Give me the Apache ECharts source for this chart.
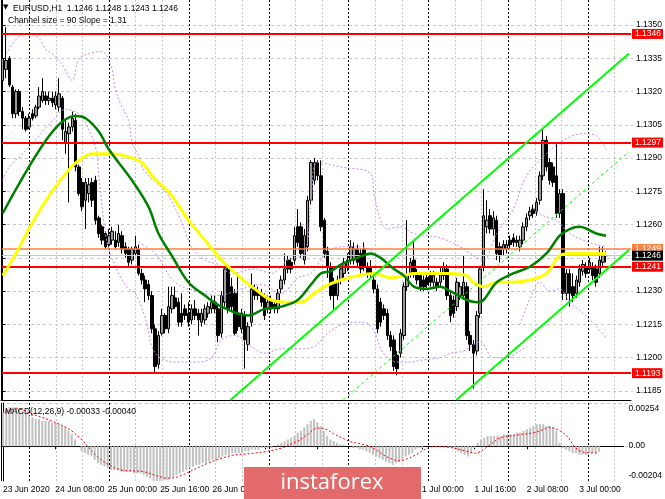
<!DOCTYPE html>
<html><head><meta charset="utf-8">
<script src="https://cdn.jsdelivr.net/npm/echarts@6/dist/echarts.min.js"></script>
<style>html,body{margin:0;padding:0;background:#fff}#c{width:665px;height:499px}</style>
</head><body><div id="c"></div>
<script>
// ---------- DATA ----------
// H1 candles, 23 Jun 2020 16:00 ... 3 Jul 2020 06:00 : [open, close, low, high]
const candles = [
[1.1325,1.1335,1.1320,1.1338],[1.1330,1.1334,1.1326,1.1349],[1.1335,1.1323,1.1322,1.1336],[1.1322,1.1310,1.1308,1.1323],
[1.1310,1.1320,1.1308,1.1321],[1.1320,1.1311,1.1309,1.1321],[1.1311,1.1308,1.1303,1.1313],[1.1308,1.1303,1.1302,1.1309],
[1.1304,1.1308,1.1303,1.1310],[1.1310,1.1308,1.1307,1.1312],[1.1309,1.1313,1.1308,1.1314],[1.1313,1.1318,1.1312,1.1322],
[1.1316,1.1320,1.1315,1.1326],[1.1318,1.1316,1.1314,1.1320],[1.1316,1.1317,1.1314,1.1320],[1.1317,1.1315,1.1313,1.1320],
[1.1314,1.1318,1.1312,1.1320],[1.1313,1.1319,1.1311,1.1326],[1.1317,1.1303,1.1298,1.1318],[1.1297,1.1302,1.1292,1.1308],
[1.1301,1.1304,1.1270,1.1306],[1.1304,1.1308,1.1302,1.1311],[1.1307,1.1286,1.1284,1.1310],[1.1286,1.1274,1.1273,1.1287],
[1.1279,1.1268,1.1266,1.1281],[1.1271,1.1279,1.1258,1.1281],[1.1274,1.1278,1.1270,1.1281],[1.1279,1.1271,1.1268,1.1281],
[1.1280,1.1262,1.1260,1.1282],[1.1263,1.1256,1.1254,1.1264],[1.1259,1.1253,1.1251,1.1260],[1.1256,1.1250,1.1249,1.1257],
[1.1251,1.1255,1.1249,1.1258],[1.1253,1.1257,1.1251,1.1259],[1.1253,1.1250,1.1249,1.1257],[1.1252,1.1256,1.1250,1.1260],
[1.1255,1.1249,1.1247,1.1257],[1.1250,1.1247,1.1245,1.1252],[1.1249,1.1243,1.1241,1.1250],[1.1244,1.1249,1.1242,1.1250],
[1.1247,1.1250,1.1246,1.1255],[1.1249,1.1238,1.1237,1.1251],[1.1238,1.1235,1.1233,1.1240],[1.1235,1.1231,1.1225,1.1237],
[1.1233,1.1228,1.1226,1.1235],[1.1228,1.1213,1.1211,1.1230],[1.1213,1.1196,1.1193,1.1215],[1.1197,1.1210,1.1195,1.1212],
[1.1211,1.1219,1.1210,1.1222],[1.1219,1.1213,1.1211,1.1220],[1.1213,1.1223,1.1211,1.1232],[1.1222,1.1228,1.1220,1.1232],
[1.1227,1.1223,1.1222,1.1232],[1.1225,1.1216,1.1214,1.1227],[1.1220,1.1216,1.1214,1.1229],[1.1222,1.1219,1.1217,1.1224],
[1.1220,1.1216,1.1214,1.1225],[1.1217,1.1222,1.1215,1.1224],[1.1222,1.1219,1.1217,1.1226],[1.1220,1.1217,1.1210,1.1222],
[1.1216,1.1220,1.1214,1.1222],[1.1217,1.1222,1.1215,1.1224],[1.1220,1.1223,1.1218,1.1225],[1.1222,1.1225,1.1220,1.1228],
[1.1225,1.1222,1.1220,1.1228],[1.1222,1.1210,1.1207,1.1224],[1.1211,1.1228,1.1209,1.1230],[1.1225,1.1240,1.1223,1.1241],
[1.1240,1.1222,1.1220,1.1241],[1.1232,1.1223,1.1221,1.1236],[1.1229,1.1211,1.1210,1.1231],[1.1220,1.1214,1.1212,1.1237],
[1.1213,1.1220,1.1211,1.1222],[1.1219,1.1208,1.1195,1.1221],[1.1206,1.1214,1.1203,1.1216],[1.1216,1.1231,1.1214,1.1238],
[1.1231,1.1228,1.1226,1.1233],[1.1230,1.1228,1.1226,1.1232],[1.1229,1.1225,1.1223,1.1231],[1.1228,1.1219,1.1217,1.1229],
[1.1222,1.1225,1.1220,1.1228],[1.1226,1.1222,1.1220,1.1228],[1.1224,1.1222,1.1220,1.1226],[1.1222,1.1229,1.1220,1.1231],
[1.1231,1.1235,1.1229,1.1237],[1.1235,1.1240,1.1233,1.1247],[1.1244,1.1240,1.1238,1.1246],[1.1243,1.1240,1.1238,1.1245],
[1.1244,1.1255,1.1242,1.1259],[1.1259,1.1252,1.1250,1.1267],[1.1259,1.1247,1.1245,1.1261],[1.1244,1.1255,1.1242,1.1258],
[1.1250,1.1271,1.1248,1.1273],[1.1271,1.1288,1.1269,1.1289],[1.1280,1.1288,1.1278,1.1290],[1.1288,1.1282,1.1280,1.1289],
[1.1282,1.1259,1.1257,1.1289],[1.1262,1.1247,1.1245,1.1263],[1.1248,1.1241,1.1236,1.1250],[1.1241,1.1228,1.1226,1.1243],
[1.1234,1.1228,1.1222,1.1236],[1.1228,1.1235,1.1226,1.1237],[1.1235,1.1240,1.1233,1.1242],[1.1238,1.1243,1.1236,1.1245],
[1.1241,1.1244,1.1239,1.1247],[1.1244,1.1250,1.1242,1.1253],[1.1244,1.1249,1.1242,1.1252],[1.1249,1.1243,1.1241,1.1251],
[1.1247,1.1240,1.1238,1.1249],[1.1249,1.1241,1.1239,1.1252],[1.1241,1.1238,1.1236,1.1243],[1.1241,1.1238,1.1236,1.1244],
[1.1235,1.1231,1.1229,1.1237],[1.1231,1.1213,1.1211,1.1233],[1.1225,1.1216,1.1214,1.1227],[1.1222,1.1219,1.1217,1.1224],
[1.1220,1.1210,1.1208,1.1222],[1.1210,1.1205,1.1203,1.1212],[1.1208,1.1196,1.1194,1.1210],[1.1201,1.1195,1.1192,1.1203],
[1.1202,1.1211,1.1200,1.1213],[1.1210,1.1232,1.1208,1.1234],[1.1232,1.1237,1.1230,1.1262],[1.1238,1.1243,1.1236,1.1245],
[1.1244,1.1238,1.1236,1.1253],[1.1238,1.1235,1.1233,1.1240],[1.1237,1.1232,1.1230,1.1238],[1.1235,1.1232,1.1230,1.1237],
[1.1236,1.1233,1.1231,1.1238],[1.1237,1.1234,1.1232,1.1239],[1.1234,1.1237,1.1232,1.1239],[1.1234,1.1232,1.1230,1.1236],
[1.1234,1.1238,1.1232,1.1241],[1.1237,1.1241,1.1235,1.1243],[1.1240,1.1228,1.1226,1.1242],[1.1228,1.1219,1.1216,1.1230],
[1.1226,1.1220,1.1218,1.1228],[1.1223,1.1234,1.1221,1.1236],[1.1228,1.1232,1.1226,1.1234],[1.1228,1.1234,1.1226,1.1246],
[1.1232,1.1210,1.1208,1.1234],[1.1210,1.1206,1.1203,1.1212],[1.1206,1.1202,1.1186,1.1208],[1.1203,1.1219,1.1201,1.1221],
[1.1220,1.1240,1.1218,1.1241],[1.1241,1.1264,1.1239,1.1276],[1.1259,1.1262,1.1256,1.1271],[1.1264,1.1258,1.1256,1.1267],
[1.1258,1.1263,1.1255,1.1266],[1.1262,1.1247,1.1244,1.1264],[1.1250,1.1246,1.1243,1.1252],[1.1249,1.1251,1.1246,1.1253],
[1.1249,1.1251,1.1247,1.1253],[1.1253,1.1251,1.1249,1.1255],[1.1254,1.1252,1.1250,1.1256],[1.1253,1.1252,1.1250,1.1255],
[1.1250,1.1253,1.1248,1.1255],[1.1253,1.1259,1.1251,1.1261],[1.1259,1.1263,1.1257,1.1265],[1.1264,1.1266,1.1262,1.1268],
[1.1267,1.1265,1.1263,1.1269],[1.1266,1.1270,1.1264,1.1272],[1.1271,1.1282,1.1269,1.1284],[1.1282,1.1298,1.1280,1.1303],
[1.1298,1.1286,1.1284,1.1300],[1.1288,1.1280,1.1278,1.1290],[1.1286,1.1279,1.1277,1.1288],[1.1282,1.1265,1.1263,1.1297],
[1.1265,1.1274,1.1263,1.1276],[1.1274,1.1229,1.1226,1.1276],[1.1229,1.1238,1.1226,1.1240],[1.1238,1.1229,1.1223,1.1240],
[1.1232,1.1228,1.1225,1.1238],[1.1229,1.1235,1.1227,1.1237],[1.1234,1.1240,1.1232,1.1242],[1.1239,1.1242,1.1237,1.1244],
[1.1241,1.1238,1.1236,1.1243],[1.1240,1.1243,1.1238,1.1245],[1.1241,1.1237,1.1235,1.1243],[1.1240,1.1234,1.1232,1.1242],
[1.1238,1.1244,1.1236,1.1250],[1.1243,1.1246,1.1241,1.1250],[1.1246,1.1246,1.1243,1.1248]
];
const slotCount = 190;            // 183 bars + empty space on the right
const timeLabels = ['23 Jun 2020','24 Jun 08:00','25 Jun 00:00','25 Jun 16:00','26 Jun 08:00','29 Jun 00:00',
                    '29 Jun 16:00','30 Jun 08:00','1 Jul 00:00','1 Jul 16:00','2 Jul 08:00','3 Jul 00:00'];
const barsPerLabel = 16;
const gridStep = 8;               // one grid line every 8 bars
const firstDayStart = 8;          // bar index of 24 Jun 00:00
const barsPerDay = 24;
const priceTicks = [1.1350,1.1335,1.1320,1.1305,1.1290,1.1275,1.1260,1.1245,1.1230,1.1215,1.1200,1.1185];
const priceMin = 1.11809, priceMax = 1.13613;
const redLevels = [1.1346, 1.1297, 1.1241, 1.1193];
const orangeLevel = 1.1249;
const lastPrice = 1.1246;
// moving averages [bar, price]
const greenMA = [[0,1.1265],[14,1.1300],[22,1.1309],[25,1.1308],[29,1.1302],[32,1.1294],[39,1.1280],[44,1.1268],[47,1.1256],
 [51,1.1246],[56,1.1234],[61,1.1228],[66,1.1223],[74,1.1219],[79,1.1222],[84,1.1223],[89,1.1226],[93,1.1233],[96,1.1238],
 [99,1.1239],[102,1.1242],[107,1.1245],[111,1.1247],[114,1.1245],[118,1.1240],[121,1.1237],[124,1.1232],[128,1.1231],
 [132,1.1232],[135,1.1230],[140,1.1226],[143,1.1225],[145,1.1226],[149,1.1234],[154,1.1238],[159,1.1241],[164,1.1247],
 [168,1.1255],[171,1.1258],[174,1.1259],[179,1.1256],[182,1.1255]];
const yellowMA = [[0,1.1237],[4,1.1247],[9,1.1261],[14,1.1273],[19,1.1283],[23,1.1289],[27,1.1292],[32,1.1292],[37,1.1291],
 [42,1.1288],[45,1.1282],[47,1.1279],[51,1.1273],[56,1.1262],[61,1.1253],[66,1.1244],[71,1.1237],[76,1.1231],[81,1.1226],
 [86,1.1225],[90,1.1225],[94,1.1229],[97,1.1232],[102,1.1235],[107,1.1237],[112,1.1238],[117,1.1236],[121,1.1237],
 [124,1.1238],[130,1.1238],[135,1.1238],[140,1.1237],[142,1.1234],[145,1.1232],[149,1.1234],[154,1.1234],[159,1.1235],
 [164,1.1238],[168,1.1246],[171,1.1247],[177,1.1247],[182,1.1247]];
// band lines (purple dotted) [bar, price]
const bandUpper1 = [[1,1.1337],[5,1.1345],[8,1.1346],[11,1.1344],[13,1.1339],[15,1.1337],[18,1.1332],[21,1.1325],[23,1.1335],
 [26,1.1337],[29,1.1338],[31,1.1337],[33,1.1330],[34,1.1321],[36,1.1313],[38,1.1307],[39,1.1297],[41,1.1291],[42,1.1286],
 [44,1.1282],[47,1.1278],[50,1.1273],[54,1.1261],[57,1.1250],[61,1.1244],[65,1.1242],[69,1.1238],[76,1.1240],[81,1.1238],
 [86,1.1244],[91,1.1247],[93,1.1270],[95,1.1288],[102,1.1286],[111,1.1283],[112,1.1274],[114,1.1262],[116,1.1258],
 [120,1.1259],[124,1.1256],[132,1.1254],[138,1.1250],[142,1.1246],[145,1.1244],[149,1.1256],[154,1.1267],[158,1.1282],
 [164,1.1292],[169,1.1298],[175,1.1301],[179,1.1300],[182,1.1294]];
const bandLower1 = [[0,1.1280],[2,1.1286],[6,1.1292],[11,1.1300],[15,1.1307],[19,1.1312],[23,1.1310],[25,1.1306],[28,1.1295],
 [29,1.1282],[30,1.1268],[31,1.1256],[32,1.1249],[34,1.1241],[36,1.1235],[38,1.1231],[40,1.1229],[43,1.1218],[46,1.1202],
 [52,1.1198],[59,1.1198],[63,1.1200],[66,1.1208],[70,1.1210],[75,1.1205],[79,1.1202],[84,1.1204],[90,1.1204],[94,1.1205],
 [98,1.1211],[101,1.1214],[105,1.1216],[109,1.1216],[112,1.1212],[114,1.1204],[116,1.1200],[119,1.1198],[122,1.1198],
 [127,1.1199],[132,1.1200],[135,1.1202],[139,1.1203],[144,1.1207],[148,1.1200],[152,1.1200],[156,1.1203],[158,1.1205]];
const bandUpper2a = [[41,1.1252],[46,1.1247],[52,1.1234],[61,1.1229],[65,1.1228],[72,1.1231],[78,1.1233],[84,1.1229],
 [89,1.1236],[93,1.1238],[97,1.1246],[102,1.1250],[108,1.1250],[112,1.1248]];
const bandUpper2b = [[160,1.1267],[163,1.1264],[167,1.1262],[171,1.1256],[175,1.1253],[179,1.1251],[182,1.1250]];
const bandLower2 = [[156,1.1215],[160,1.1230],[162,1.1234],[165,1.1230],[168,1.1231],[171,1.1225],[175,1.1220],[179,1.1214],[182,1.1209]];
// regression channel (bright green) [bar, price]
const channelUpper = [[68.7,1.11809],[188.9,1.13372]];
const channelMid   = [[102.7,1.11809],[188.9,1.12929]];
const channelLower = [[136.8,1.11809],[188.9,1.12486]];
// MACD(12,26,9) main (histogram) per bar
const macdMain = [
 0.0020,0.0022,0.0023,0.0023,0.0023,0.0022,0.0021,0.0019,0.0018,0.0017,0.0016,0.0016,0.0015,0.0015,0.0015,0.0014,
 0.0014,0.0013,0.0012,0.0011,0.0009,0.0007,0.0004,0.0000,-0.0003,-0.0004,-0.0005,-0.0006,-0.0008,-0.0010,-0.0011,-0.0012,
 -0.0013,-0.0014,-0.0014,-0.0014,-0.0015,-0.0015,-0.0015,-0.0015,-0.0016,-0.0016,-0.0016,-0.0017,-0.0018,-0.0019,-0.0021,-0.0021,
 -0.0021,-0.0020,-0.0020,-0.0019,-0.0018,-0.0017,-0.0016,-0.0015,-0.0014,-0.0013,-0.0012,-0.0011,-0.0011,-0.0010,-0.0010,-0.0009,
 -0.0008,-0.0008,-0.0007,-0.0006,-0.0005,-0.0005,-0.0004,-0.0004,-0.0004,-0.0004,-0.0003,-0.0003,-0.0002,-0.0002,-0.0002,-0.0001,
 -0.0001,-0.0001,-0.0001,0.0000,0.0001,0.0002,0.0003,0.0004,0.0005,0.0006,0.0008,0.0009,0.0011,0.0013,0.0015,0.0016,
 0.0014,0.0012,0.0009,0.0006,0.0004,0.0003,0.0002,0.0001,0.0001,0.0000,0.0000,-0.0001,-0.0001,-0.0002,-0.0002,-0.0003,
 -0.0004,-0.0005,-0.0006,-0.0007,-0.0008,-0.0009,-0.0010,-0.0011,-0.0010,-0.0009,-0.0008,-0.0006,-0.0005,-0.0004,-0.0002,-0.0001,
 -0.0001,0.0000,0.0000,0.0000,0.0000,0.0000,0.0000,0.0000,-0.0001,-0.0001,-0.0002,-0.0003,-0.0004,-0.0005,-0.0006,-0.0004,
 -0.0001,0.0002,0.0004,0.0005,0.0006,0.0006,0.0006,0.0006,0.0006,0.0007,0.0007,0.0007,0.0007,0.0008,0.0008,0.0009,
 0.0010,0.0011,0.0012,0.0013,0.0013,0.0013,0.0012,0.0012,0.0011,0.0009,0.0002,-0.0001,-0.0002,-0.0003,-0.0004,-0.0004,
 -0.0005,-0.0005,-0.0005,-0.0004,-0.0004,-0.0004,-0.00033
];
// MACD signal line [bar, value]
const macdSignal = [[0.5,0.00197],[4.3,0.0022],[9.4,0.00186],[14.5,0.00152],[19.6,0.00107],[22.1,0.00073],[24.6,0.00027],
 [27.2,-0.0003],[29.7,-0.00075],[32.3,-0.00109],[34.8,-0.00132],[37.4,-0.00143],[42.5,-0.00148],[47.5,-0.00177],
 [50.1,-0.00188],[52.6,-0.00184],[55.2,-0.00166],[57.7,-0.00143],[60.3,-0.0012],[62.8,-0.00098],[65.4,-0.00079],
 [67.9,-0.00064],[70.4,-0.00052],[75.5,-0.00043],[80.6,-0.0003],[85.7,-0.00007],[88.3,0.00016],[90.8,0.00039],
 [93.3,0.00073],[95.9,0.00107],[98.4,0.00102],[101,0.00073],[103.5,0.0005],[106.1,0.00027],[108.6,0.00016],
 [111.2,0.00005],[113.7,-0.00018],[116.3,-0.00052],[118.8,-0.00075],[121.3,-0.00086],[123.9,-0.0007],[126.4,-0.00048],
 [128.9,-0.00018],[131.5,-0.00002],[136.6,-0.00007],[141.7,-0.0003],[144.2,-0.00041],[146.8,-0.00018],[149.3,0.00016],
 [151.9,0.0005],[157,0.00066],[162,0.00079],[164.6,0.00095],[167.1,0.00111],[169.7,0.00095],[172.2,0.00061],
 [174.8,-0.00007],[177.3,-0.00035],[182,-0.0004]];
const macdTicks = [0.00254, 0, -0.00204];
const macdMin = -0.002045, macdMax = 0.002545;         // plotted range of the MACD panel
const macdLabelMin = -0.0024027, macdLabelMax = 0.0029518; // scale used to place the panel's labels inside it
const macdParams = '12,26,9';

// ---------- LAYOUT ----------
const PL = 1, PR = 32, W = 665 - PL - PR;   // plot left / right margins and width
const MAIN_TOP = 0, MAIN_H = 400, MACD_TOP = 403, MACD_H = 78;
const FONT = 'Liberation Sans';

// grid-line helpers: derive extra (line-only) grids from the same scales
const gridBars = [];
for (let b = gridStep; b < slotCount - 1; b += gridStep) gridBars.push(b);
const barX = b => PL + (b + 0.5) * W / slotCount;
const vLeft = barX(gridBars[0]), vWidth = barX(gridBars[gridBars.length - 1]) - vLeft;
const vColors = gridBars.map(b => (b - firstDayStart) % barsPerDay === 0 ? '#000000' : '#c6c6c6');
const priceY = p => MAIN_TOP + (priceMax - p) / (priceMax - priceMin) * MAIN_H;
const hTop = priceY(priceTicks[0]), hHeight = priceY(priceTicks[priceTicks.length - 1]) - hTop;
const zeroY = MACD_TOP + (macdMax - 0) / (macdMax - macdMin) * MACD_H;

const chart = echarts.init(document.getElementById('c'), null, {renderer: 'canvas'});
const cats = Array.from({length: slotCount}, (_, i) => String(i));
const labelIdx = (i) => i % barsPerLabel === 0 && i / barsPerLabel < timeLabels.length;
const xL = -0.5, xR = slotCount - 0.5;
const last = candles[candles.length - 1];
const header = 'EURUSD,H1  ' + [last[0], last[3], last[2], last[1]].map(v => v.toFixed(4)).join(' ');
const lastMain = macdMain[macdMain.length - 1];
const lastSig = macdSignal[macdSignal.length - 1][1];
const bandStyle = {color: '#c389f0', width: 1, type: [2, 2]};
const lineSeries = (data, style, z) => ({type: 'line', xAxisIndex: 1, yAxisIndex: 0, data, smooth: 0.35,
  showSymbol: false, silent: true, lineStyle: style, z: z || 4, clip: true});
const lblStyle = {color: '#000', fontSize: 8.5, fontFamily: FONT};
const border = {show: true, lineStyle: {color: '#000', width: 1}};
const hidden = {show: false};
const lineAxis = (gridIndex, count, colors, dash) => ({type: 'value', gridIndex, min: 0, max: count, interval: 1,
  axisLine: hidden, axisTick: hidden, axisLabel: hidden, z: 0,
  splitLine: {show: true, lineStyle: {color: colors, width: 1, type: dash}}});
const hiddenAxis = (gridIndex) => ({type: 'value', gridIndex, min: 0, max: 1, show: false});

chart.setOption({
  animation: false,
  backgroundColor: '#fff',
  textStyle: {fontFamily: FONT},
  grid: [
    {left: PL, right: PR, top: MAIN_TOP, height: MAIN_H},
    {left: PL, right: PR, top: MACD_TOP, height: MACD_H},
    {left: PL, right: PR, top: hTop, height: hHeight},                 // 2: price grid lines
    {left: vLeft, width: vWidth, top: MAIN_TOP, height: MAIN_H},       // 3: time grid lines (main)
    {left: vLeft, width: vWidth, top: MACD_TOP, height: MACD_H},       // 4: time grid lines (MACD)
    {left: PL, right: PR, top: MACD_TOP, height: zeroY - MACD_TOP}     // 5: MACD zero line
  ],
  xAxis: [
    {type: 'category', gridIndex: 0, data: cats, boundaryGap: true, axisLine: border, axisTick: hidden,
     axisLabel: hidden, splitLine: hidden},
    {type: 'value', gridIndex: 0, min: xL, max: xR, position: 'top', axisLine: hidden, axisTick: hidden,
     axisLabel: hidden, splitLine: hidden},
    {type: 'category', gridIndex: 1, data: cats, boundaryGap: true, axisLine: border,
     axisTick: {show: true, interval: labelIdx, alignWithLabel: true, length: 3, lineStyle: {color: '#000'}},
     axisLabel: Object.assign({interval: labelIdx, formatter: (v, i) => timeLabels[i / barsPerLabel], align: 'left', margin: 4}, lblStyle),
     splitLine: hidden},
    {type: 'value', gridIndex: 1, min: xL, max: xR, position: 'top', axisLine: border, axisTick: hidden,
     axisLabel: hidden, splitLine: hidden},
    hiddenAxis(2),
    lineAxis(3, gridBars.length - 1, vColors, [2, 2]),
    lineAxis(4, gridBars.length - 1, vColors, [2, 2]),
    hiddenAxis(5)
  ],
  yAxis: [
    {type: 'value', gridIndex: 0, position: 'right', min: priceMin, max: priceMax, axisLine: border,
     axisTick: {show: true, customValues: priceTicks, length: 3, lineStyle: {color: '#000'}},
     axisLabel: Object.assign({customValues: priceTicks, formatter: v => v.toFixed(4), margin: 5}, lblStyle),
     splitLine: hidden},
    {type: 'value', gridIndex: 1, position: 'right', min: macdMin, max: macdMax,
     axisLine: border, axisTick: hidden, axisLabel: hidden, splitLine: hidden},
    {type: 'value', gridIndex: 1, position: 'right', min: macdLabelMin, max: macdLabelMax,
     axisLine: hidden, axisTick: hidden, splitLine: hidden,
     axisLabel: Object.assign({customValues: macdTicks, margin: 5, formatter: v => v === 0 ? '0.00' : v.toFixed(5)}, lblStyle)},
    lineAxis(2, priceTicks.length - 1, '#c6c6c6', [3, 3]),
    hiddenAxis(3),
    hiddenAxis(4),
    Object.assign(lineAxis(5, 1, '#c6c6c6', [3, 3]), {})
  ],
  series: [
    // candles
    {type: 'candlestick', xAxisIndex: 0, yAxisIndex: 0, data: candles, barWidth: 3, z: 3, silent: true,
     itemStyle: {color: '#9a9a9a', color0: '#000', borderColor: '#000', borderColor0: '#000', borderWidth: 1}},
    lineSeries(bandUpper1, bandStyle), lineSeries(bandLower1, bandStyle),
    lineSeries(bandUpper2a, bandStyle), lineSeries(bandUpper2b, bandStyle), lineSeries(bandLower2, bandStyle),
    lineSeries(yellowMA, {color: '#ffff00', width: 3}, 5),
    lineSeries(greenMA, {color: '#008000', width: 2.5}, 5),
    {type: 'line', xAxisIndex: 1, yAxisIndex: 0, data: channelUpper, showSymbol: false, silent: true, z: 6,
     lineStyle: {color: '#00ff00', width: 2}},
    {type: 'line', xAxisIndex: 1, yAxisIndex: 0, data: channelMid, showSymbol: false, silent: true, z: 6,
     lineStyle: {color: '#00ff00', width: 1, type: [3, 3]}},
    {type: 'line', xAxisIndex: 1, yAxisIndex: 0, data: channelLower, showSymbol: false, silent: true, z: 6,
     lineStyle: {color: '#00ff00', width: 2}},
    // horizontal levels with price boxes
    {type: 'line', xAxisIndex: 1, yAxisIndex: 0, data: [], z: 7, silent: true,
     markLine: {symbol: ['none', 'none'], silent: true, precision: 6, animation: false,
       label: {show: true, position: 'end', distance: 1, color: '#fff', fontSize: 8.5, fontFamily: FONT,
         padding: [1, 2, 0, 3], formatter: p => Number(p.value).toFixed(4)},
       data: [
         ...redLevels.map(v => ({yAxis: v, lineStyle: {color: '#ff0000', width: 2, type: 'solid'}, label: {backgroundColor: '#ff0000'}})),
         {yAxis: orangeLevel, lineStyle: {color: '#ff7f3f', width: 1.5, type: 'solid'}, label: {backgroundColor: '#ff7f3f'}},
         {yAxis: lastPrice, lineStyle: {color: '#c8c8c8', width: 1, type: 'solid'}, label: {backgroundColor: '#000'}}
       ]}},
    {type: 'bar', xAxisIndex: 2, yAxisIndex: 1, data: macdMain, barWidth: 2, z: 3, silent: true,
     itemStyle: {color: '#c0c0c0'}},
    {type: 'line', xAxisIndex: 3, yAxisIndex: 1, data: macdSignal, smooth: 0.35, showSymbol: false, silent: true, z: 4,
     lineStyle: {color: '#ff0000', width: 1, type: [2, 2]}}
  ],
  graphic: [
    {type: 'line', z: 40, silent: true, shape: {x1: 1.5, y1: 0, x2: 1.5, y2: 400}, style: {stroke: '#000', lineWidth: 1}},
    {type: 'line', z: 40, silent: true, shape: {x1: 1.5, y1: 403, x2: 1.5, y2: 481}, style: {stroke: '#000', lineWidth: 1}},
    {type: 'text', left: 3, top: 4, z: 50, style: {text: '▼', font: '7px "DejaVu Sans"', fill: '#000'}},
    {type: 'text', left: 13, top: 4, z: 50, style: {text: header, font: '8.5px "Liberation Sans"', fill: '#000'}},
    {type: 'text', left: 8, top: 16, z: 50, style: {text: 'Channel size = 90 Slope = 1.31', font: '8.5px "Liberation Sans"', fill: '#000'}},
    {type: 'text', left: 5, top: 407, z: 50, style: {text: 'MACD(' + macdParams + ') ' + lastMain.toFixed(5) + ' ' + lastSig.toFixed(5),
      font: '8.5px "Liberation Sans"', fill: '#000'}},
    {type: 'rect', z: 100, shape: {x: 244, y: 467, width: 177, height: 32}, style: {fill: '#e26a6a'}},
    {type: 'text', z: 101, x: 332, y: 483, style: {text: 'instaforex', font: '22px "Open Sans"', fill: '#fff',
      align: 'center', verticalAlign: 'middle'}}
  ]
});
</script>
</body></html>
